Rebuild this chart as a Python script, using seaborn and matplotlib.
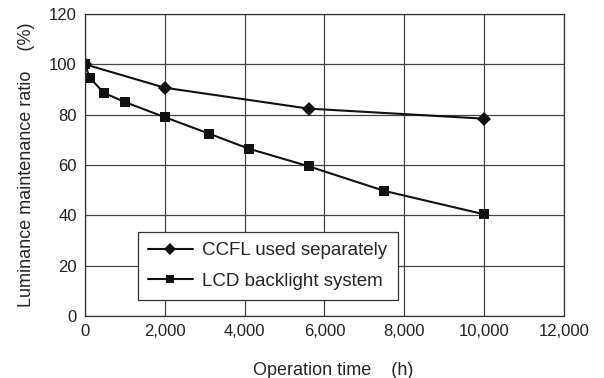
import pandas as pd
import seaborn as sns
import matplotlib.pyplot as plt

# CCFL alone vs. the full LCD backlight system
ccfl_hours = [0, 2000, 5600, 10000]
ccfl_ratio = [100, 90.7, 82.4, 78.4]

lcd_hours = [0, 120, 480, 1000, 2000, 3100, 4100, 5600, 7500, 10000]
lcd_ratio = [100, 94.6, 88.6, 85.0, 79.0, 72.5, 66.5, 59.5, 49.7, 40.4]

x_ticks = [0, 2000, 4000, 6000, 8000, 10000, 12000]
x_tick_labels = ["0", "2,000", "4,000", "6,000", "8,000", "10,000", "12,000"]
y_ticks = [0, 20, 40, 60, 80, 100, 120]

df = pd.concat([
    pd.DataFrame({"hours": ccfl_hours, "ratio": ccfl_ratio, "series": "CCFL used separately"}),
    pd.DataFrame({"hours": lcd_hours, "ratio": lcd_ratio, "series": "LCD backlight system"}),
])

sns.set_style("white")
plt.rcParams["font.family"] = ["Liberation Sans", "DejaVu Sans"]

fig = plt.figure(figsize=(6.04, 3.78), dpi=100)
ax = fig.add_axes([0.1407, 0.164, 0.7931, 0.799])

sns.lineplot(data=df, x="hours", y="ratio", hue="series", style="series",
             markers={"CCFL used separately": "D", "LCD backlight system": "s"},
             dashes=False, palette=["#111111", "#111111"],
             markersize=7, linewidth=1.5, markeredgewidth=0, ax=ax)

ax.set_xlim(0, 12000)
ax.set_ylim(0, 120)
ax.set_xticks(x_ticks)
ax.set_xticklabels(x_tick_labels)
ax.set_yticks(y_ticks)
ax.tick_params(length=0, labelsize=12, colors="#222222", pad=6)
ax.grid(True, color="#444444", linewidth=0.9)
for s in ax.spines.values():
    s.set_color("#333333")
    s.set_linewidth(0.9)

ax.set_xlabel("Operation time    (h)", fontsize=13, labelpad=16)
ax.xaxis.label.set_x(0.518)
ax.set_ylabel("Luminance maintenance ratio    (%)", fontsize=13, labelpad=10)

leg = ax.legend(loc="lower left", bbox_to_anchor=(0.11, 0.053), fontsize=13.5,
                frameon=True, fancybox=False, handlelength=2.4, handletextpad=0.5,
                borderpad=0.55, labelspacing=0.7, borderaxespad=0)
leg.get_frame().set_edgecolor("#333333")
leg.get_frame().set_linewidth(0.9)
leg.get_frame().set_alpha(1)
for h in leg.legend_handles:
    h.set_linewidth(1.5)
    h.set_markersize(6)

fig.savefig("out.png", dpi=100)
